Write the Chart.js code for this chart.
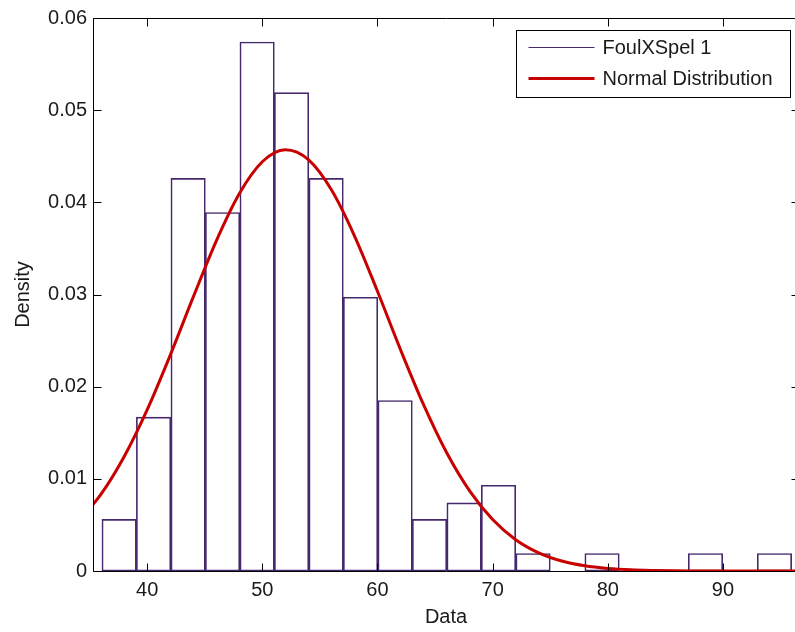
<!DOCTYPE html>
<html>
<head>
<meta charset="utf-8">
<title>Density</title>
<script src="https://cdn.jsdelivr.net/npm/chart.js@4.4.1/dist/chart.umd.min.js"></script>
<style>
  html, body { margin: 0; padding: 0; background: #fff; }
  #wrap { width: 795px; height: 632px; overflow: hidden; }
</style>
</head>
<body>
<div id="wrap"><canvas id="density-chart" width="805" height="632"></canvas></div>
<script>
// histogram bins (centres) and their densities
const binCenters = [37.57, 40.56, 43.56, 46.55, 49.55, 52.54, 55.54, 58.53, 61.53, 64.52,
                    67.52, 70.51, 73.51, 76.50, 79.50, 82.49, 85.48, 88.48, 91.47, 94.47];
const binDensity = [0.0056, 0.0167, 0.0426, 0.0389, 0.0574, 0.0519, 0.0426, 0.0297, 0.0185, 0.0056,
                    0.0074, 0.0093, 0.0019, 0, 0.0019, 0, 0, 0.0019, 0, 0.0019];

// fitted normal curve
const curveX = [34, 36, 38, 40, 42, 44, 46, 48, 50, 52, 54, 56, 58, 60, 62, 64,
                66, 68, 70, 72, 74, 76, 78, 80, 82, 84, 86, 88, 90, 92, 94, 96, 98];
const curveY = [0.00533, 0.00834, 0.01240, 0.01748, 0.02340, 0.02971, 0.03580, 0.04093,
                0.04440, 0.04570, 0.04463, 0.04136, 0.03637, 0.03035, 0.02402, 0.01805,
                0.01286, 0.00870, 0.00558, 0.00340, 0.00197, 0.00108, 0.00056, 0.00028,
                0.00013, 0.00006, 0.00002, 0.00001, 0, 0, 0, 0, 0];

const xTicks = [40, 50, 60, 70, 80, 90];
const yTicks = [0, 0.01, 0.02, 0.03, 0.04, 0.05, 0.06];
const seriesNames = ['FoulXSpel 1', 'Normal Distribution'];

const barColor = 'rgb(70, 40, 110)';
const curveColor = 'rgb(200, 0, 0)';
const axisColor = '#000';
const textColor = '#1a1a1a';
const fontFamily = '"Liberation Sans", Arial, sans-serif';

Chart.defaults.font.family = fontFamily;
Chart.defaults.font.size = 20;
Chart.defaults.color = textColor;

// box round the plot with inward ticks on all four sides
const axisBox = {
  id: 'axisBox',
  afterDatasetsDraw(chart) {
    const { ctx, chartArea: a, scales: { x, y } } = chart;
    const len = 8;
    const l = Math.round(a.left) + 0.5, r = Math.round(a.right) + 0.5;
    const t = Math.round(a.top) + 0.5, b = Math.round(a.bottom) + 0.5;
    ctx.save();
    ctx.strokeStyle = axisColor;
    ctx.lineWidth = 1;
    ctx.beginPath();
    ctx.rect(l, t, r - l, b - t);
    xTicks.forEach(v => {
      const px = Math.round(x.getPixelForValue(v)) + 0.5;
      ctx.moveTo(px, b); ctx.lineTo(px, b - len);
      ctx.moveTo(px, t); ctx.lineTo(px, t + len);
    });
    yTicks.forEach(v => {
      const py = Math.round(y.getPixelForValue(v)) + 0.5;
      ctx.moveTo(l, py); ctx.lineTo(l + len, py);
      ctx.moveTo(r, py); ctx.lineTo(r - len, py);
    });
    ctx.stroke();
    ctx.restore();
  }
};

// framed legend in the top right corner of the plot
const boxLegend = {
  id: 'boxLegend',
  afterDraw(chart) {
    const { ctx, chartArea: a } = chart;
    const w = 274, h = 67;
    const left = Math.round(a.right - 9 - w) + 0.5;
    const top = Math.round(a.top + 12) + 0.5;
    ctx.save();
    ctx.fillStyle = '#fff';
    ctx.fillRect(left, top, w, h);
    ctx.strokeStyle = axisColor;
    ctx.lineWidth = 1;
    ctx.strokeRect(left, top, w, h);
    ctx.font = '20px ' + fontFamily;
    ctx.textBaseline = 'middle';
    chart.data.datasets.forEach((ds, i) => {
      const rowY = Math.round(top + 16 + i * 31) + 0.5;
      ctx.strokeStyle = ds.borderColor;
      ctx.lineWidth = ds.borderWidth;
      ctx.beginPath();
      ctx.moveTo(left + 12, rowY);
      ctx.lineTo(left + 78, rowY);
      ctx.stroke();
      ctx.fillStyle = textColor;
      ctx.fillText(ds.label, left + 86, rowY + 1);
    });
    ctx.restore();
  }
};

new Chart(document.getElementById('density-chart'), {
  type: 'bar',
  data: {
    datasets: [{
      type: 'bar',
      label: seriesNames[0],
      data: binCenters.map((c, i) => ({ x: c, y: binDensity[i] })),
      backgroundColor: 'rgba(255, 255, 255, 0)',
      borderColor: barColor,
      borderWidth: 1,
      borderSkipped: false,
      barPercentage: 1,
      categoryPercentage: 1,
      order: 2
    }, {
      type: 'line',
      label: seriesNames[1],
      data: curveX.map((v, i) => ({ x: v, y: curveY[i] })),
      borderColor: curveColor,
      borderWidth: 3,
      pointRadius: 0,
      cubicInterpolationMode: 'monotone',
      fill: false,
      order: 1
    }]
  },
  options: {
    responsive: false,
    animation: false,
    layout: { padding: { left: 0, top: 18, right: 6, bottom: 0 } },
    plugins: {
      legend: { display: false },
      tooltip: { enabled: false }
    },
    scales: {
      x: {
        type: 'linear',
        min: 35.3,
        max: 96.6,
        offset: false,
        grid: { display: false, drawTicks: false, offset: false },
        border: { display: false },
        afterBuildTicks: s => { s.ticks = xTicks.map(v => ({ value: v })); },
        afterFit: s => { s.height = 61; s.paddingLeft = 0; s.paddingRight = 0; },
        ticks: { padding: 7, maxRotation: 0, callback: v => String(v) },
        title: { display: true, text: 'Data', padding: { top: 0, bottom: 3 } }
      },
      y: {
        min: 0,
        max: 0.06,
        grid: { display: false, drawTicks: false },
        border: { display: false },
        afterBuildTicks: s => { s.ticks = yTicks.map(v => ({ value: v })); },
        afterFit: s => { s.width = 93; s.paddingTop = 0; s.paddingBottom = 0; },
        ticks: { padding: 6, callback: v => (v === 0 ? '0' : v.toFixed(2)) },
        title: { display: true, text: 'Density', padding: { top: 11, bottom: 0 } }
      }
    }
  },
  plugins: [axisBox, boxLegend]
});
</script>
</body>
</html>
